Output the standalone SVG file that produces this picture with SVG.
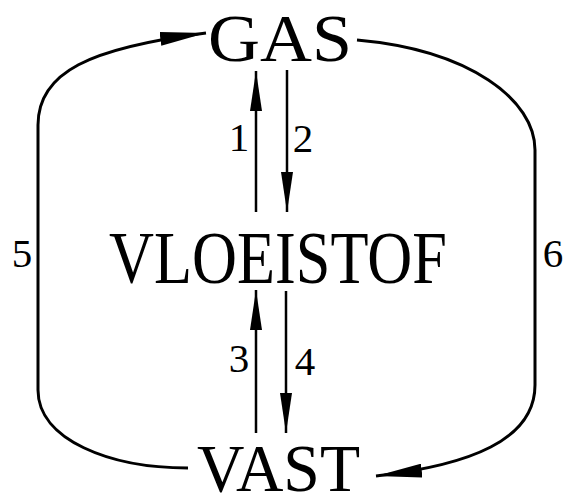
<svg xmlns="http://www.w3.org/2000/svg" width="570" height="496" viewBox="0 0 570 496">
<defs>
<style>
.big{font-family:"Liberation Serif","Times New Roman",serif;font-size:67px;fill:#000}
.num{font-family:"Liberation Serif","Times New Roman",serif;font-size:41px;fill:#000;text-anchor:middle}
.cv{fill:none;stroke:#000;stroke-width:3}
.ar{fill:none;stroke:#000;stroke-width:2.5}
</style>
<marker id="ah" viewBox="0 0 40 12" refX="40" refY="6" markerWidth="40" markerHeight="12" markerUnits="userSpaceOnUse" orient="auto">
<path d="M0,0 L40,6 L0,12 Z" fill="#000"/>
</marker>
<marker id="ah2" viewBox="0 0 46 14" refX="46" refY="7" markerWidth="46" markerHeight="14" markerUnits="userSpaceOnUse" orient="auto">
<path d="M0,0 L46,7 L0,14 Z" fill="#000"/>
</marker>
</defs>
<rect width="570" height="496" fill="#fff"/>
<g id="connectors">
<path class="ar" d="M256,212 L256,71" marker-end="url(#ah)"/>
<path class="ar" d="M287,70 L287,212" marker-end="url(#ah)"/>
<path class="ar" d="M256,433 L256,290" marker-end="url(#ah)"/>
<path class="ar" d="M286,291 L286,433" marker-end="url(#ah)"/>
<path class="cv" d="M188,468 C110,468 38,440 38,390 L38,125 C38,72 90,48 206,33" marker-end="url(#ah2)"/>
<path class="cv" d="M357,40 C470,50 535,100 535,150 L535,385 C535,440 470,465 376,476" marker-end="url(#ah2)"/>
</g>
<g id="gas"><text class="big" x="208" y="61" textLength="144" lengthAdjust="spacingAndGlyphs">GAS</text></g>
<g id="vloeistof"><text class="big" x="109" y="283" textLength="338" lengthAdjust="spacingAndGlyphs" style="font-size:75px">VLOEISTOF</text></g>
<g id="vast"><text class="big" x="197" y="491" textLength="163" lengthAdjust="spacingAndGlyphs">VAST</text></g>
<g id="labels">
<text class="num" x="239" y="151">1</text>
<text class="num" x="303" y="152">2</text>
<text class="num" x="239" y="372">3</text>
<text class="num" x="305" y="375">4</text>
<text class="num" x="22" y="267">5</text>
<text class="num" x="553" y="267">6</text>
</g>
</svg>
